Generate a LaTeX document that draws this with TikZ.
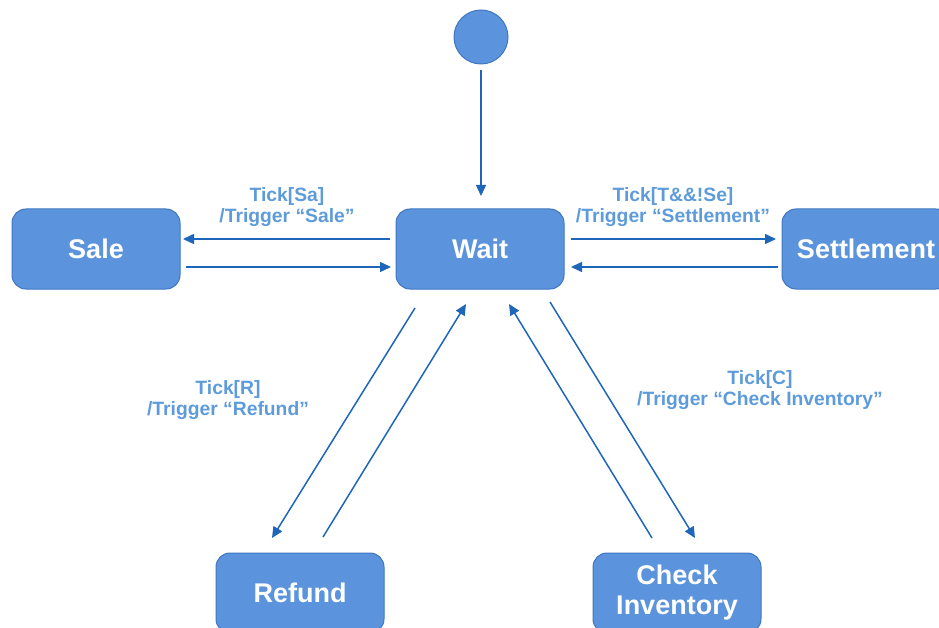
\documentclass[tikz,border=0pt]{standalone}
\usepackage{fontspec}
\setmainfont{Liberation Sans}
\usetikzlibrary{arrows.meta}
\definecolor{boxfill}{HTML}{5B94DC}
\definecolor{boxline}{HTML}{3F76C2}
\definecolor{arrowc}{HTML}{1E66B9}
\definecolor{labelc}{HTML}{5E9BDA}
\tikzset{
  state/.style={draw=boxline, line width=1pt, fill=boxfill, rounded corners=14pt,
    minimum width=168pt, minimum height=80pt, text=white, align=center,
    font=\fontsize{27}{30}\selectfont\bfseries, inner sep=0pt},
  initst/.style={draw=boxline, line width=1pt, fill=boxfill, circle, minimum size=54pt, inner sep=0pt},
  conn/.style={draw=arrowc, line width=1.5pt, -{Triangle[width=10pt,length=11pt]}},
  lab/.style={text=labelc, align=center, font=\fontsize{19.3}{20.5}\selectfont\bfseries, inner sep=0pt}
}
\begin{document}
\begin{tikzpicture}[x=1pt,y=-1pt]
\useasboundingbox (0,0) rectangle (939,628);
\node[initst] (init) at (481,37) {};
\node[state] (wait) at (480,249) {Wait};
\node[state] (sale) at (96,249) {Sale};
\node[state] (settle) at (866,249) {Settlement};
\node[state] (refund) at (300,593) {Refund};
\node[state] (check) at (677,593) {Check\\Inventory};

\coordinate (i1) at (481,70);
\coordinate (i2) at (481,196);
\draw[conn] (i1) -- (i2);

\coordinate (a1) at (390,239); \coordinate (a2) at (183,239);
\draw[conn] (a1) -- (a2);
\coordinate (b1) at (186,267); \coordinate (b2) at (391,267);
\draw[conn] (b1) -- (b2);

\coordinate (c1) at (571,239); \coordinate (c2) at (776,239);
\draw[conn] (c1) -- (c2);
\coordinate (d1) at (778,267); \coordinate (d2) at (571,267);
\draw[conn] (d1) -- (d2);

\coordinate (e1) at (415,308); \coordinate (e2) at (272,538);
\draw[conn] (e1) -- (e2);
\coordinate (f1) at (323,537); \coordinate (f2) at (466,304);
\draw[conn] (f1) -- (f2);

\coordinate (g1) at (652,538); \coordinate (g2) at (509,304);
\draw[conn] (g1) -- (g2);
\coordinate (h1) at (550,302); \coordinate (h2) at (695,538);
\draw[conn] (h1) -- (h2);

\node[lab] (lsale) at (287,207) {Tick[Sa]\\/Trigger “Sale”};
\node[lab] (lsettle) at (673,207) {Tick[T\&\&!Se]\\/Trigger “Settlement”};
\node[lab] (lrefund) at (228,400) {Tick[R]\\/Trigger “Refund”};
\node[lab] (lcheck) at (760,390) {Tick[C]\\/Trigger “Check Inventory”};
\end{tikzpicture}
\end{document}
